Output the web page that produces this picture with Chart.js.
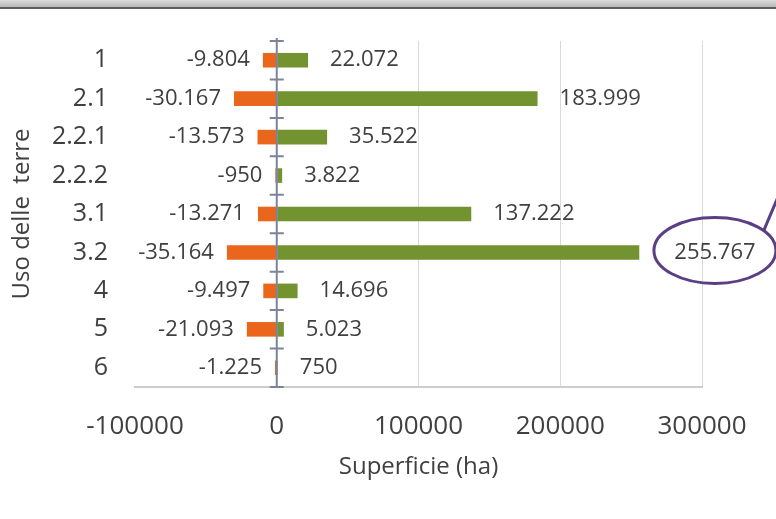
<!DOCTYPE html>
<html>
<head>
<meta charset="utf-8">
<script src="https://cdn.jsdelivr.net/npm/chart.js@4/dist/chart.umd.min.js"></script>
<style>
  body { margin: 0; background: #fff; }
  #wrap { position: relative; width: 776px; height: 519px; overflow: hidden; }
  #topBar {
    position: absolute; left: 0; top: 0; width: 776px; height: 7px;
    background: linear-gradient(#dcdcdc, #b8b8b8);
    border-bottom: 2px solid #5e5e5e;
  }
  canvas { position: absolute; left: 0; top: 0; }
</style>
</head>
<body>
<div id="wrap">
  <canvas id="landChart" width="776" height="519"></canvas>
  <div id="topBar"></div>
</div>
<script>
const categories = ["1", "2.1", "2.2.1", "2.2.2", "3.1", "3.2", "4", "5", "6"];
const losses = [-9804, -30167, -13573, -950, -13271, -35164, -9497, -21093, -1225];
const gains = [22072, 183999, 35522, 3822, 137222, 255767, 14696, 5023, 750];
const xTicks = [-100000, 0, 100000, 200000, 300000];

const FONT = '"Open Sans", sans-serif';
const TEXT = "#404040";

// 12345 -> "12.345"
const fmt = v => (v < 0 ? "-" : "") + String(Math.abs(v)).replace(/\B(?=(\d{3})+(?!\d))/g, ".");

// vertical axis through zero with cross tick marks between categories
const zeroAxis = {
  id: "zeroAxis",
  afterDatasetsDraw(chart) {
    const { ctx, scales: { x }, chartArea } = chart;
    const x0 = x.getPixelForValue(0);
    const step = (chartArea.bottom - chartArea.top) / categories.length;
    ctx.save();
    ctx.strokeStyle = "#7b849a";
    ctx.lineWidth = 2;
    ctx.beginPath();
    ctx.moveTo(x0, chartArea.top - 3);
    ctx.lineTo(x0, chartArea.bottom);
    for (let i = 0; i <= categories.length; i++) {
      const yy = chartArea.top + i * step;
      ctx.moveTo(x0 - 7, yy);
      ctx.lineTo(x0 + 7, yy);
    }
    ctx.stroke();
    ctx.restore();
  }
};

// value labels beside each bar, plus the circled maximum
const barLabels = {
  id: "barLabels",
  afterDatasetsDraw(chart) {
    const { ctx } = chart;
    ctx.save();
    ctx.font = "22px " + FONT;
    ctx.fillStyle = TEXT;
    ctx.textBaseline = "middle";
    const maxGain = Math.max(...gains);
    chart.data.datasets.forEach((ds, di) => {
      chart.getDatasetMeta(di).data.forEach((bar, i) => {
        const v = ds.data[i];
        const txt = fmt(v);
        if (v < 0) {
          ctx.textAlign = "right";
          ctx.fillText(txt, bar.x - 13, bar.y);
          return;
        }
        ctx.textAlign = "left";
        const isMax = v === maxGain;
        const lx = bar.x + (isMax ? 35 : 22);
        ctx.fillText(txt, lx, bar.y);
        if (isMax) {
          const cx = lx + ctx.measureText(txt).width / 2;
          const cy = bar.y - 2;
          ctx.strokeStyle = "#5a3e86";
          ctx.lineWidth = 3;
          ctx.beginPath();
          ctx.ellipse(cx, cy, 61, 33, 0, 0, Math.PI * 2);
          ctx.stroke();
          const sx = cx + 61 * 0.8, sy = cy - 33 * 0.6;
          ctx.beginPath();
          ctx.moveTo(sx, sy);
          ctx.lineTo(sx + 11 * 4, sy - 26 * 4);
          ctx.stroke();
        }
      });
    });
    ctx.restore();
  }
};

new Chart(document.getElementById("landChart"), {
  type: "bar",
  data: {
    labels: categories,
    datasets: [
      { data: losses, backgroundColor: "#e9661c", categoryPercentage: 1, barPercentage: 0.38 },
      { data: gains, backgroundColor: "#729330", categoryPercentage: 1, barPercentage: 0.38 }
    ]
  },
  options: {
    indexAxis: "y",
    responsive: false,
    animation: false,
    layout: { padding: { top: 41, right: 74, left: 0, bottom: 0 } },
    plugins: { legend: { display: false }, tooltip: { enabled: false } },
    scales: {
      x: {
        stacked: true,
        min: -100000,
        max: 300000,
        afterBuildTicks: scale => { scale.ticks = xTicks.map(v => ({ value: v })); },
        afterFit: scale => { scale.height = 132; },
        grid: {
          drawTicks: false,
          color: c => (c.tick && (c.tick.value === -100000 || c.tick.value === 0)) ? "rgba(0,0,0,0)" : "#d9d9d9"
        },
        border: { color: "#cccccc", width: 2 },
        ticks: {
          padding: 24,
          color: TEXT,
          font: { family: FONT, size: 26 },
          callback: v => String(v)
        },
        title: {
          display: true,
          text: "Superficie (ha)",
          color: TEXT,
          font: { family: FONT, size: 24 },
          padding: { top: 4, bottom: 37 }
        }
      },
      y: {
        stacked: true,
        afterFit: scale => { scale.width = 135; },
        grid: { display: false },
        border: { display: false },
        ticks: {
          padding: 19,
          color: TEXT,
          font: { family: FONT, size: 25 }
        },
        title: {
          display: true,
          text: "Uso delle  terre",
          color: TEXT,
          font: { family: FONT, size: 24 },
          padding: { top: 8, bottom: 0 }
        }
      }
    }
  },
  plugins: [zeroAxis, barLabels]
});
</script>
</body>
</html>
